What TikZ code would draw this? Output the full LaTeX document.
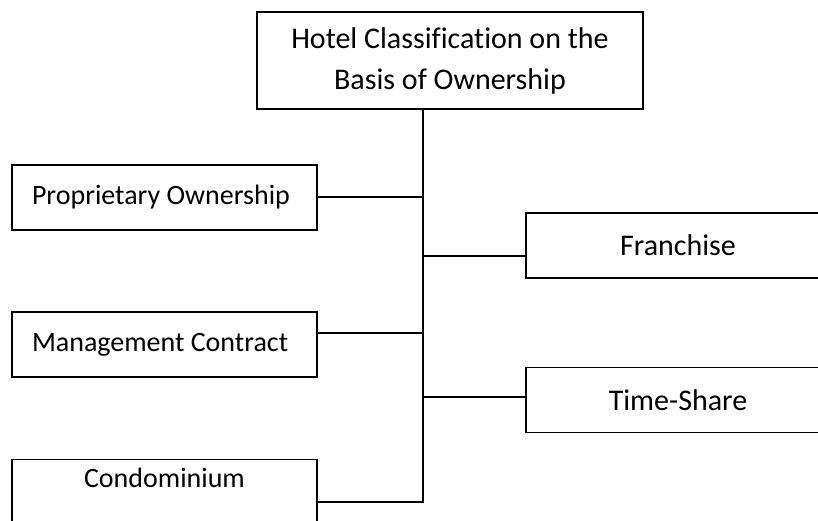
\documentclass[tikz,border=0pt]{standalone}
\usepackage{fontspec}
\setmainfont{Carlito}[Ligatures=CommonOff]
\usetikzlibrary{calc}

\begin{document}
\begin{tikzpicture}[x=1pt,y=-1pt,
    box/.style={draw,line width=1.2pt,minimum width=305pt,minimum height=65pt,
      inner sep=0pt,font=\fontsize{28}{41}\selectfont},
    wide/.style={font=\fontsize{30}{41}\selectfont},
    flush/.style={text width=265pt,inner xsep=20pt,align=flush left},
    link/.style={line width=1.2pt}]
  \useasboundingbox (0,0) rectangle (818,520);
  \clip (0,0) rectangle (818,520);

  % root of the tree
  \node [box,wide,minimum width=386pt,minimum height=97pt,align=center] (root)
    at (450,60.5) {Hotel Classification on the\\Basis of Ownership};

  % left column
  \node [box,flush] (proprietary) at (164.5,197.5) {Proprietary Ownership};
  \node [box,flush] (management) at (164.5,344.5) {Management Contract};
  \node [box,anchor=north,text height=27.5pt,text depth=37.5pt] (condominium)
    at (164.5,459) {Condominium};

  % right column, cut by the page edge
  \node [box,wide,minimum width=304pt] (franchise) at (678,245.5) {Franchise};
  \node [box,wide,minimum width=304pt] (timeshare) at (678,400) {Time-Share};

  % trunk and where the branches meet it
  \coordinate (trunk) at (423,107);
  \coordinate (trunk end) at (423,502);
  \coordinate (j1) at (423,197);
  \coordinate (j2) at (423,256);
  \coordinate (j3) at (423,333);
  \coordinate (j4) at (423,397);

  \draw [link] (root.south -| trunk) -- (trunk end) -- (condominium.east |- trunk end);
  \draw [link] (proprietary.east |- j1) -- (j1);
  \draw [link] (j2) -- (franchise.west |- j2);
  \draw [link] (management.east |- j3) -- (j3);
  \draw [link] (j4) -- (timeshare.west |- j4);
\end{tikzpicture}
\end{document}
